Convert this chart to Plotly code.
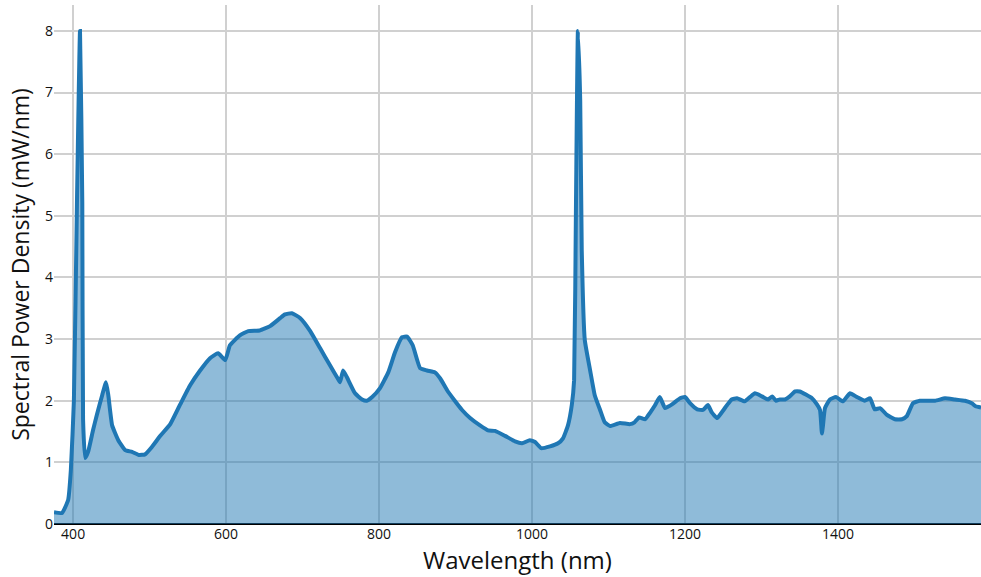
import plotly.graph_objects as go

wavelength_nm = [375, 385.5, 393.5, 397, 401, 405, 409, 412, 413, 415.7, 419.6, 426, 431, 438, 443, 446, 451, 459, 468, 477, 486, 494, 503, 514, 527, 540, 553, 566, 579, 589.5, 599, 605, 618, 629, 644, 657.5, 670.6, 677, 686, 697, 710, 723, 736, 746, 749, 753, 758, 768.6, 777.8, 784, 791, 801, 812, 821, 830, 836.6, 844, 853.6, 862.7, 873, 880, 889, 899, 908.5, 919, 932, 942.5, 951.6, 964.7, 977.8, 987, 997, 1004, 1012, 1023.5, 1034, 1040.5, 1047, 1052, 1055, 1057.5, 1060, 1063, 1065, 1069, 1076, 1082, 1089, 1095, 1102, 1115, 1128, 1134, 1140, 1148, 1154, 1161, 1167, 1174, 1183, 1193.5, 1200, 1206.5, 1216, 1223.5, 1230, 1235, 1242, 1248, 1255, 1261, 1268, 1278, 1285, 1291.5, 1300.6, 1308.5, 1314, 1319, 1324, 1330.7, 1337, 1344, 1350, 1358, 1366, 1372.5, 1376.5, 1379, 1380.4, 1383, 1389.5, 1397.4, 1406.5, 1415.7, 1424.8, 1435, 1442, 1448, 1455, 1464, 1474.5, 1483.7, 1490, 1498, 1507, 1527, 1540, 1553, 1566, 1575, 1580, 1587]

power_mw_nm = [0.19, 0.18, 0.39, 0.87, 2.0, 5.2, 8.0, 5.2, 1.7, 1.07, 1.17, 1.52, 1.77, 2.09, 2.30, 2.09, 1.60, 1.36, 1.20, 1.17, 1.12, 1.13, 1.25, 1.43, 1.62, 1.94, 2.25, 2.49, 2.69, 2.77, 2.66, 2.90, 3.06, 3.13, 3.14, 3.21, 3.34, 3.40, 3.42, 3.34, 3.13, 2.85, 2.57, 2.36, 2.30, 2.49, 2.38, 2.12, 2.02, 2.0, 2.06, 2.20, 2.46, 2.79, 3.03, 3.04, 2.90, 2.53, 2.49, 2.46, 2.36, 2.17, 2.0, 1.85, 1.72, 1.60, 1.52, 1.51, 1.43, 1.34, 1.31, 1.36, 1.33, 1.23, 1.26, 1.31, 1.39, 1.60, 1.93, 2.33, 5.25, 8.0, 6.87, 4.44, 2.98, 2.49, 2.09, 1.85, 1.65, 1.59, 1.64, 1.62, 1.65, 1.73, 1.70, 1.80, 1.93, 2.06, 1.88, 1.94, 2.04, 2.06, 1.96, 1.86, 1.85, 1.93, 1.81, 1.72, 1.81, 1.93, 2.02, 2.04, 1.99, 2.06, 2.12, 2.07, 2.02, 2.07, 2.0, 2.02, 2.02, 2.07, 2.15, 2.15, 2.10, 2.04, 1.94, 1.85, 1.47, 1.60, 1.88, 2.02, 2.06, 1.99, 2.12, 2.06, 2.0, 2.04, 1.86, 1.88, 1.77, 1.70, 1.70, 1.75, 1.96, 2.0, 2.0, 2.04, 2.02, 2.0, 1.96, 1.91, 1.89]

fig = go.Figure()
fig.add_trace(go.Scatter(
    x=wavelength_nm, y=power_mw_nm, mode="lines", fill="tozeroy",
    line=dict(color="#1f77b4", width=4, shape="spline", smoothing=0.4),
    fillcolor="rgba(31,119,180,0.5)",
    showlegend=False,
))

fig.update_layout(
    width=981, height=577,
    margin=dict(l=54, r=0, t=5, b=53),
    paper_bgcolor="white", plot_bgcolor="white",
    font=dict(family="Open Sans, sans-serif", color="#111"),
    xaxis=dict(
        title=dict(text="Wavelength (nm)", font=dict(size=24), standoff=6),
        range=[375, 1587], tickvals=[400, 600, 800, 1000, 1200, 1400],
        showgrid=True, gridcolor="#d0d0d0", gridwidth=2,
        zeroline=False, showline=False, ticks="", tickfont=dict(size=14),
    ),
    yaxis=dict(
        title=dict(text="Spectral Power Density (mW/nm)", font=dict(size=23), standoff=8),
        range=[0, 8.42], tickvals=[0, 1, 2, 3, 4, 5, 6, 7, 8],
        showgrid=True, gridcolor="#d0d0d0", gridwidth=2,
        zeroline=True, zerolinecolor="black", zerolinewidth=2,
        showline=False, ticks="", tickfont=dict(size=14),
    ),
)

fig.write_html(
    "out.html",
    config={"displayModeBar": False},
    post_script="document.body.style.margin='0';document.body.style.overflow='hidden';",
)
